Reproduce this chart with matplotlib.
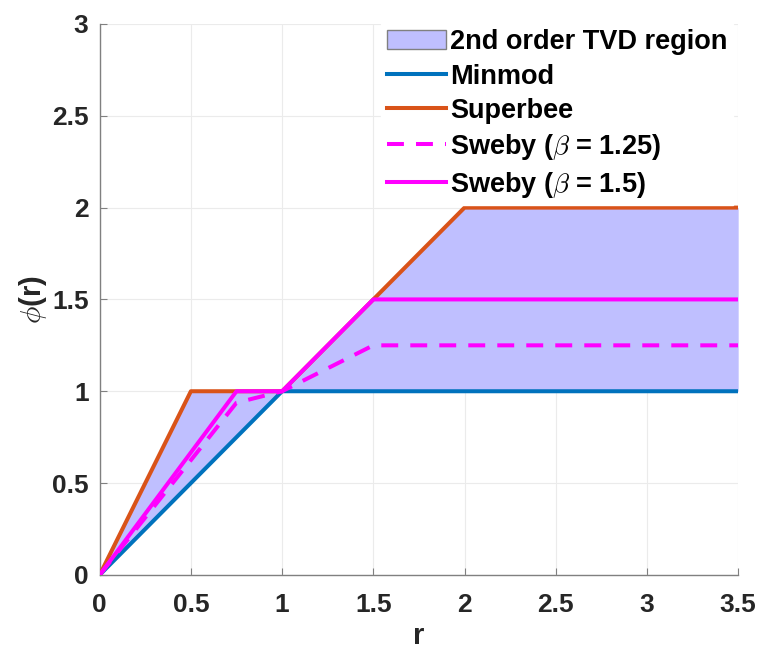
import matplotlib
matplotlib.use("Agg")
import matplotlib.pyplot as plt
from matplotlib.patches import Patch
from matplotlib.lines import Line2D

plt.rcParams["font.family"] = ["Liberation Sans", "DejaVu Sans"]
plt.rcParams["mathtext.fontset"] = "cm"

C_MINMOD = "#0072BD"
C_SUPER = "#D95319"
C_SWEBY = "#FF00FF"
C_FILL = "#BFBFFF"
LW = 2.9
DASH = (0, (4.2, 3.0))

# ── Data ───────────────────────────────────────────────────────
r_minmod = [0, 1, 3.5]
phi_minmod = [0, 1, 1]

r_super = [0, 0.5, 1, 1.5, 2, 3.5]
phi_super = [0, 1, 1, 1.5, 2, 2]

r_sw125 = [0, 0.75, 1, 1.5, 3.5]
phi_sw125 = [0, 0.9375, 1, 1.25, 1.25]

r_sw15 = [0, 0.75, 1, 1.5, 3.5]
phi_sw15 = [0, 1, 1, 1.5, 1.5]

# TVD region boundary (lower = minmod, upper = superbee)
r_region = [0, 0.5, 1, 1.5, 2, 3.5]
lo_region = [0, 0.5, 1, 1, 1, 1]
hi_region = [0, 1, 1, 1.5, 2, 2]

xticks = [0, 0.5, 1, 1.5, 2, 2.5, 3, 3.5]
xticklabels = ["0", "0.5", "1", "1.5", "2", "2.5", "3", "3.5"]
yticks = [0, 0.5, 1, 1.5, 2, 2.5, 3]
yticklabels = ["0", "0.5", "1", "1.5", "2", "2.5", "3"]

# ── Canvas ─────────────────────────────────────────────────────
fig = plt.figure(figsize=(7.61, 6.57), dpi=100)
ax = fig.add_axes([0.131, 0.125, 0.839, 0.8385])

ax.fill_between(r_region, lo_region, hi_region, color=C_FILL, linewidth=0, zorder=1)
ax.plot(r_minmod, phi_minmod, color=C_MINMOD, lw=LW, zorder=3)
ax.plot(r_super, phi_super, color=C_SUPER, lw=LW, zorder=3)
ax.plot(r_sw125, phi_sw125, color=C_SWEBY, lw=LW, ls=DASH, zorder=4)
ax.plot(r_sw15, phi_sw15, color=C_SWEBY, lw=LW, zorder=4)

ax.set_xlim(0, 3.5)
ax.set_ylim(0, 3)
ax.set_xticks(xticks)
ax.set_xticklabels(xticklabels)
ax.set_yticks(yticks)
ax.set_yticklabels(yticklabels)
ax.grid(True, color="#ebebeb", lw=0.8, zorder=0)
ax.set_axisbelow(True)

for s in ["top", "right"]:
    ax.spines[s].set_visible(False)
for s in ["left", "bottom"]:
    ax.spines[s].set_color("#808080")
    ax.spines[s].set_linewidth(1.0)
ax.tick_params(direction="in", length=5, colors="#808080", labelcolor="#262626",
               labelsize=19)
ax.tick_params(axis="x", pad=13)
ax.tick_params(axis="y", pad=8)
for t in ax.get_xticklabels() + ax.get_yticklabels():
    t.set_fontweight("bold")

ax.set_xlabel("r", fontsize=21, fontweight="bold", color="#262626", labelpad=4)
ax.set_ylabel(r"$\phi$(r)", fontsize=21, fontweight="bold", color="#262626", labelpad=2)

handles = [
    Patch(facecolor=C_FILL, edgecolor="#808080", lw=1.0, label="2nd order TVD region"),
    Line2D([0], [0], color=C_MINMOD, lw=LW, label="Minmod"),
    Line2D([0], [0], color=C_SUPER, lw=LW, label="Superbee"),
    Line2D([0], [0], color=C_SWEBY, lw=LW, ls=DASH, label=r"Sweby ($\beta$ = 1.25)"),
    Line2D([0], [0], color=C_SWEBY, lw=LW, label=r"Sweby ($\beta$ = 1.5)"),
]
leg = ax.legend(handles=handles, loc="upper right", frameon=True, fancybox=False,
                edgecolor="white", facecolor="white", framealpha=1.0,
                prop={"size": 19.5, "weight": "bold"}, handlelength=2.2,
                handletextpad=0.15, labelspacing=0.3, borderaxespad=0.0,
                borderpad=0.2, bbox_to_anchor=(0.992, 1.0))
for t in leg.get_texts():
    t.set_color("#000000")

fig.savefig("out.png", dpi=100, facecolor="white")
plt.close(fig)
